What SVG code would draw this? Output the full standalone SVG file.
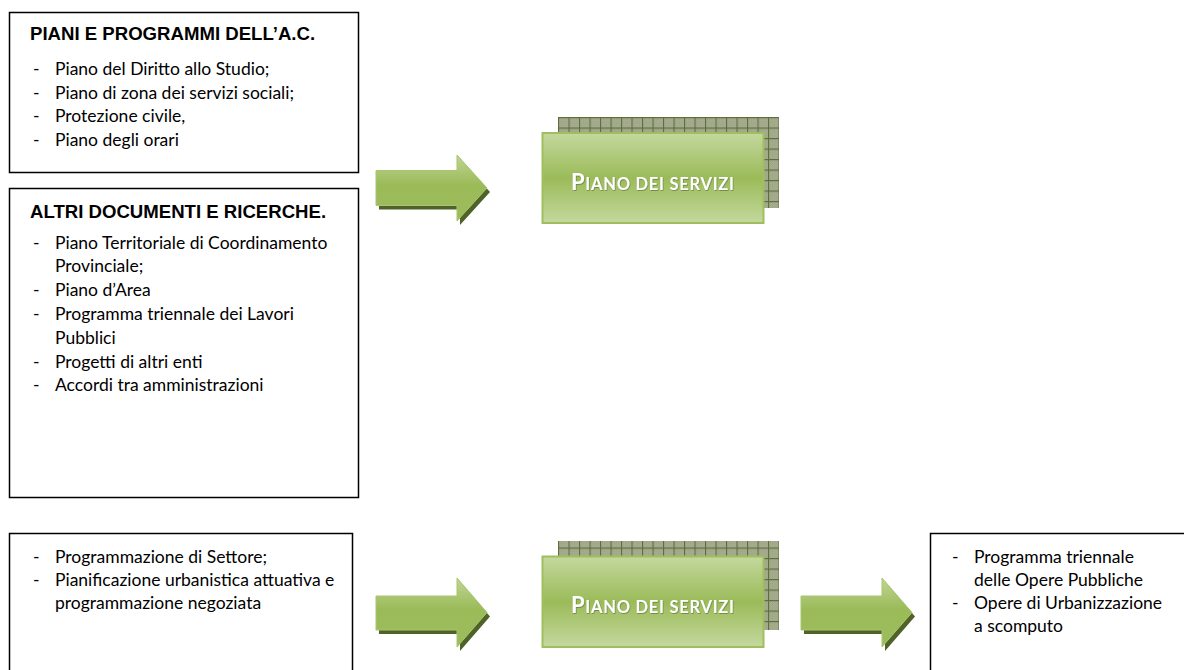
<svg xmlns="http://www.w3.org/2000/svg" width="1184" height="670" viewBox="0 0 1184 670">
<style>
.box{fill:#ffffff;stroke:#000000;stroke-width:1.5}
.title{font-family:"Liberation Sans",Arial,sans-serif;font-weight:bold;font-size:18.6px;fill:#000}
.txt{font-family:Lato,"Open Sans",sans-serif;font-size:17.5px;fill:#000}
.arrow{fill:url(#gArrow);stroke:#a9c66f;stroke-width:1}
.ashadow{fill:#4f6228}
.front{fill:url(#gBox);stroke:#9fbf5f;stroke-width:2}
.back{fill:url(#grid)}
.ps{font-family:Lato,"Open Sans",sans-serif;font-weight:bold;fill:#ffffff}
</style>
<defs>
<linearGradient id="gArrow" x1="0" y1="0" x2="0" y2="1">
<stop offset="0" stop-color="#c0d595"/>
<stop offset="0.45" stop-color="#9bbb59"/>
<stop offset="1" stop-color="#9dbc5c"/>
</linearGradient>
<linearGradient id="gBox" x1="0" y1="0" x2="0" y2="1">
<stop offset="0" stop-color="#c4d89e"/>
<stop offset="0.5" stop-color="#9bbb59"/>
<stop offset="1" stop-color="#c4d89e"/>
</linearGradient>
<pattern id="dots" width="2" height="2" patternUnits="userSpaceOnUse">
<rect width="2" height="2" fill="#b9bea3"/>
<rect width="1" height="1" fill="#8e9676"/>
<rect x="1" y="1" width="1" height="1" fill="#8e9676"/>
</pattern>
<pattern id="grid" x="558" y="117" width="10.5" height="10.5" patternUnits="userSpaceOnUse">
<rect width="10.5" height="10.5" fill="url(#dots)"/>
<path d="M0 0.5 H10.5 M0.5 0 V10.5" stroke="#5e6d3c" stroke-width="1.2" fill="none"/>
</pattern>
<filter id="tsh" x="-10%" y="-30%" width="120%" height="160%">
<feDropShadow dx="0.6" dy="0.8" stdDeviation="0.6" flood-color="#4f6228" flood-opacity="0.7"/>
</filter>
</defs>

<g id="piani-programmi">
<rect class="box" x="9.5" y="12.5" width="349" height="160"/>
<text class="title" x="30" y="40">PIANI E PROGRAMMI DELL’A.C.</text>
<text class="txt" x="33" y="75">-</text><text class="txt" x="55" y="75">Piano del Diritto allo Studio;</text>
<text class="txt" x="33" y="98.5">-</text><text class="txt" x="55" y="98.5">Piano di zona dei servizi sociali;</text>
<text class="txt" x="33" y="122">-</text><text class="txt" x="55" y="122">Protezione civile,</text>
<text class="txt" x="33" y="145.5">-</text><text class="txt" x="55" y="145.5">Piano degli orari</text>
</g>

<g id="altri-documenti">
<rect class="box" x="9.5" y="188.5" width="349" height="309"/>
<text class="title" x="30" y="218">ALTRI DOCUMENTI E RICERCHE.</text>
<text class="txt" x="33" y="248.5">-</text><text class="txt" x="55" y="248.5">Piano Territoriale di Coordinamento</text>
<text class="txt" x="55" y="272.3">Provinciale;</text>
<text class="txt" x="33" y="296.1">-</text><text class="txt" x="55" y="296.1">Piano d’Area</text>
<text class="txt" x="33" y="319.9">-</text><text class="txt" x="55" y="319.9">Programma triennale dei Lavori</text>
<text class="txt" x="55" y="343.7">Pubblici</text>
<text class="txt" x="33" y="367.5">-</text><text class="txt" x="55" y="367.5">Progetti di altri enti</text>
<text class="txt" x="33" y="391.3">-</text><text class="txt" x="55" y="391.3">Accordi tra amministrazioni</text>
</g>

<g id="piano-servizi-1">
<rect class="back" x="558" y="117" width="221" height="91"/>
<rect class="front" x="542.5" y="133" width="221" height="90"/>
<text class="ps" x="571" y="190" textLength="163" lengthAdjust="spacing" filter="url(#tsh)"><tspan font-size="22">P</tspan><tspan font-size="16.5">IANO DEI SERVIZI</tspan></text>
</g>

<g id="settore">
<rect class="box" x="9.5" y="533.5" width="343" height="160"/>
<text class="txt" x="33" y="563">-</text><text class="txt" x="55" y="563">Programmazione di Settore;</text>
<text class="txt" x="33" y="586">-</text><text class="txt" x="55" y="586">Pianificazione urbanistica attuativa e</text>
<text class="txt" x="55" y="609">programmazione negoziata</text>
</g>

<g id="piano-servizi-2">
<rect class="back" x="558" y="541" width="221" height="89"/>
<rect class="front" x="542.5" y="556.5" width="221" height="90.5"/>
<text class="ps" x="571" y="613" textLength="163" lengthAdjust="spacing" filter="url(#tsh)"><tspan font-size="22">P</tspan><tspan font-size="16.5">IANO DEI SERVIZI</tspan></text>
</g>

<g id="opere">
<rect class="box" x="930.5" y="533.5" width="280" height="160"/>
<text class="txt" x="952" y="563">-</text><text class="txt" x="974" y="563">Programma triennale</text>
<text class="txt" x="974" y="586">delle Opere Pubbliche</text>
<text class="txt" x="952" y="609">-</text><text class="txt" x="974" y="609">Opere di Urbanizzazione</text>
<text class="txt" x="974" y="632">a scomputo</text>
</g>

<g id="connectors">
<g id="arrow-1">
<path class="ashadow" transform="translate(3,4)" d="M376 170.5 H457 V155 L487 188 L457 221 V205.5 H376 Z"/>
<path class="arrow" d="M376 170.5 H457 V155 L487 188 L457 221 V205.5 H376 Z"/>
</g>
<g id="arrow-2">
<path class="ashadow" transform="translate(3,4)" d="M376 596 H457 V578 L487 612.5 L457 647 V630 H376 Z"/>
<path class="arrow" d="M376 596 H457 V578 L487 612.5 L457 647 V630 H376 Z"/>
</g>
<g id="arrow-3">
<path class="ashadow" transform="translate(3,4)" d="M801 596 H882 V578 L912 612.5 L882 647 V630 H801 Z"/>
<path class="arrow" d="M801 596 H882 V578 L912 612.5 L882 647 V630 H801 Z"/>
</g>
</g>
</svg>
